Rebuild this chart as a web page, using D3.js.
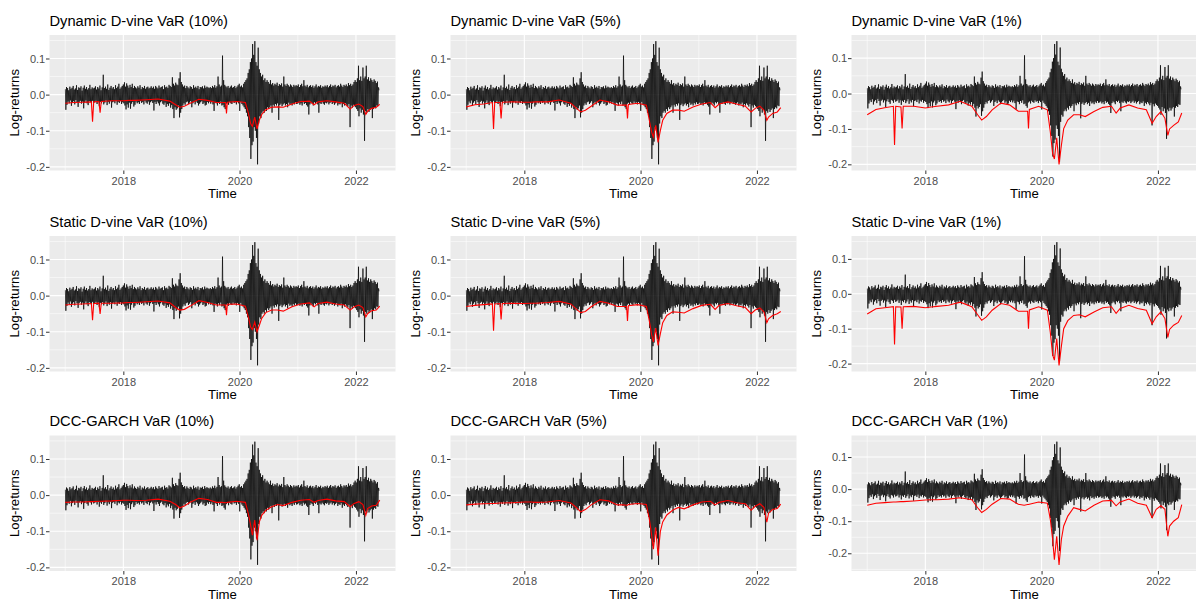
<!doctype html>
<html>
<head>
<meta charset="UTF-8">
<title>VaR backtests</title>
<script src="https://cdn.jsdelivr.net/npm/d3@7"></script>
<style>
  body { margin: 0; background: #fff; }
  text { font-family: "Liberation Sans", Arial, sans-serif; }
</style>
</head>
<body>
<svg id="chart" width="1196" height="602"></svg>
<script>
// panel titles, row by row
var titles = [
  "Dynamic D-vine VaR (10%)", "Dynamic D-vine VaR (5%)", "Dynamic D-vine VaR (1%)",
  "Static D-vine VaR (10%)", "Static D-vine VaR (5%)", "Static D-vine VaR (1%)",
  "DCC-GARCH VaR (10%)", "DCC-GARCH VaR (5%)", "DCC-GARCH VaR (1%)"
];

// portfolio log-returns, weekly high and low (weeks from 2017-01-02)
var retHi = [
  .015,.021,.018,.012,.022,.016,.019,.024,.014,.017,.026,.013,.02,.018,.023,.011,.019,.025,.016,.021,.014,.018,.027,.015,.02,.017,
  .019,.023,.014,.021,.017,.025,.012,.02,.055,.018,.022,.016,.028,.013,.019,.024,.017,.021,.015,.026,.018,.022,.03,.016,.02,.024,
  .028,.034,.022,.031,.025,.019,.027,.021,.03,.018,.024,.02,.017,.023,.019,.026,.015,.021,.018,.024,.016,.02,.022,.017,.019,.023,
  .018,.022,.016,.024,.02,.017,.025,.019,.021,.023,.015,.026,.02,.022,.018,.027,.024,.021,.048,.03,.025,.033,.028,.026,.045,.062,
  .035,.028,.022,.025,.018,.024,.02,.017,.023,.021,.016,.026,.019,.022,.018,.024,.015,.021,.02,.023,.017,.025,.019,.022,.02,.018,
  .021,.018,.024,.02,.026,.019,.023,.05,.028,.022,.025,.108,.04,.027,.023,.02,.024,.018,.022,.025,.019,.021,.024,.018,.022,.026,
  .03,.022,.025,.02,.03,.035,.04,.045,.06,.07,.09,.10,.14,.11,.148,.09,.08,.13,.07,.06,.05,.055,.04,.045,.035,.04,
  .035,.03,.04,.028,.032,.025,.03,.027,.033,.024,.029,.026,.031,.022,.05,.028,.024,.03,.026,.022,.028,.025,.021,.027,.023,.026,
  .024,.028,.021,.026,.03,.023,.04,.025,.022,.027,.02,.024,.026,.021,.025,.019,.023,.028,.02,.024,.022,.026,.019,.023,.021,.025,
  .022,.026,.02,.024,.028,.021,.025,.023,.027,.02,.024,.026,.022,.03,.025,.021,.027,.024,.028,.023,.032,.026,.03,.024,.028,.035,
  .04,.035,.045,.08,.04,.05,.038,.075,.045,.05,.08,.042,.048,.038,.045,.04,.035,.042,.038,.032,.036,.02
];
var retLo = [
  -.042,-.028,-.019,-.024,-.016,-.031,-.022,-.018,-.027,-.015,-.021,-.034,-.02,-.017,-.025,-.019,-.038,-.022,-.016,-.024,-.029,-.018,-.02,-.026,-.017,-.023,
  -.021,-.017,-.026,-.019,-.032,-.02,-.024,-.018,-.027,-.022,-.016,-.029,-.02,-.025,-.018,-.036,-.021,-.019,-.024,-.017,-.028,-.02,-.023,-.018,-.026,-.021,
  -.024,-.03,-.041,-.027,-.036,-.022,-.039,-.025,-.02,-.033,-.028,-.019,-.024,-.021,-.026,-.018,-.023,-.02,-.027,-.017,-.022,-.025,-.019,-.028,-.021,-.018,
  -.023,-.044,-.02,-.026,-.019,-.024,-.03,-.021,-.018,-.025,-.028,-.022,-.034,-.026,-.031,-.024,-.036,-.029,-.04,-.065,-.035,-.042,-.038,-.03,-.063,-.05,
  -.04,-.03,-.024,-.028,-.021,-.019,-.026,-.022,-.018,-.035,-.024,-.02,-.027,-.019,-.023,-.03,-.025,-.021,-.018,-.026,-.022,-.03,-.028,-.02,-.024,-.019,
  -.025,-.02,-.027,-.045,-.022,-.024,-.03,-.021,-.026,-.019,-.03,-.028,-.035,-.04,-.025,-.022,-.028,-.02,-.024,-.026,-.019,-.023,-.021,-.027,-.02,-.024,
  -.045,-.02,-.026,-.03,-.035,-.04,-.05,-.06,-.09,-.12,-.178,-.14,-.13,-.09,-.10,-.12,-.193,-.08,-.06,-.065,-.05,-.045,-.05,-.04,-.045,-.035,
  -.04,-.035,-.03,-.05,-.028,-.033,-.026,-.03,-.024,-.07,-.029,-.025,-.032,-.027,-.024,-.03,-.026,-.035,-.022,-.028,-.025,-.03,-.023,-.027,-.021,-.026,
  -.025,-.022,-.028,-.024,-.03,-.021,-.026,-.023,-.029,-.033,-.055,-.027,-.022,-.025,-.03,-.021,-.024,-.02,-.027,-.05,-.023,-.026,-.021,-.025,-.028,-.022,
  -.024,-.021,-.027,-.023,-.02,-.026,-.022,-.028,-.024,-.021,-.03,-.025,-.027,-.022,-.035,-.026,-.03,-.024,-.028,-.033,-.026,-.09,-.03,-.036,-.028,-.032,
  -.035,-.04,-.045,-.06,-.038,-.05,-.042,-.055,-.128,-.045,-.05,-.04,-.048,-.042,-.038,-.065,-.04,-.035,-.038,-.03,-.032,.012
];

// dates (decimal years) at which the VaR curves were read
var varTimes = [
  2017.00,2017.15,2017.30,2017.45,2017.47,2017.49,2017.58,2017.60,2017.62,2017.80,
  2018.00,2018.10,2018.20,2018.40,2018.60,2018.80,2018.90,2018.97,
  2019.05,2019.15,2019.30,2019.45,2019.60,2019.70,2019.76,2019.775,2019.79,2019.95,
  2020.10,2020.15,2020.19,2020.22,2020.26,2020.30,2020.34,2020.38,2020.45,2020.55,2020.65,2020.75,2020.90,
  2021.05,2021.20,2021.28,2021.35,2021.50,2021.65,2021.80,2021.90,2021.97,
  2022.05,2022.12,2022.17,2022.20,2022.27,2022.35,2022.41
];

var varDyn10 = [-.024,-.022,-.021,-.02,-.075,-.02,-.019,-.05,-.019,-.017,
  -.017,-.016,-.016,-.014,-.012,-.018,-.028,-.035,
  -.032,-.024,-.013,-.016,-.022,-.022,-.022,-.052,-.021,-.019,
  -.022,-.05,-.08,-.088,-.062,-.095,-.07,-.055,-.042,-.035,-.034,-.035,-.026,
  -.019,-.018,-.028,-.02,-.017,-.02,-.024,-.04,-.03,
  -.026,-.033,-.055,-.046,-.038,-.035,-.027];
var varDyn5 = [-.034,-.028,-.026,-.022,-.095,-.022,-.022,-.066,-.021,-.02,
  -.021,-.021,-.02,-.02,-.015,-.024,-.038,-.048,
  -.043,-.032,-.015,-.02,-.029,-.029,-.029,-.066,-.027,-.024,
  -.029,-.071,-.104,-.118,-.085,-.132,-.099,-.071,-.052,-.043,-.043,-.046,-.034,
  -.026,-.022,-.036,-.026,-.02,-.026,-.032,-.048,-.038,
  -.032,-.043,-.071,-.062,-.052,-.048,-.036];
var varDyn1 = [-.06,-.045,-.04,-.036,-.145,-.036,-.038,-.099,-.036,-.036,
  -.041,-.038,-.036,-.032,-.022,-.036,-.06,-.075,
  -.065,-.046,-.027,-.032,-.05,-.05,-.05,-.099,-.045,-.036,
  -.046,-.108,-.17,-.185,-.125,-.2,-.146,-.099,-.075,-.06,-.06,-.065,-.051,
  -.039,-.036,-.055,-.041,-.032,-.041,-.046,-.084,-.065,
  -.051,-.07,-.118,-.1,-.09,-.08,-.055];
var varSta10 = [-.026,-.024,-.023,-.022,-.068,-.022,-.021,-.051,-.021,-.021,
  -.02,-.019,-.019,-.017,-.015,-.02,-.033,-.04,
  -.038,-.029,-.014,-.019,-.026,-.026,-.026,-.054,-.024,-.023,
  -.029,-.059,-.087,-.094,-.073,-.1,-.082,-.063,-.047,-.04,-.04,-.043,-.031,
  -.023,-.02,-.031,-.022,-.018,-.023,-.026,-.04,-.031,
  -.026,-.033,-.059,-.05,-.042,-.04,-.029];
var varSta5 = [-.03,-.027,-.025,-.023,-.097,-.023,-.022,-.066,-.022,-.021,
  -.022,-.021,-.021,-.019,-.016,-.023,-.038,-.047,
  -.044,-.031,-.016,-.021,-.03,-.03,-.03,-.07,-.028,-.025,
  -.03,-.07,-.108,-.128,-.09,-.138,-.105,-.075,-.055,-.045,-.046,-.048,-.036,
  -.027,-.024,-.038,-.027,-.022,-.028,-.033,-.05,-.04,
  -.034,-.045,-.075,-.064,-.055,-.05,-.044];
var varSta1 = [-.058,-.043,-.04,-.037,-.145,-.037,-.038,-.1,-.037,-.036,
  -.04,-.038,-.036,-.033,-.024,-.037,-.06,-.076,
  -.066,-.047,-.028,-.033,-.05,-.05,-.05,-.1,-.046,-.037,
  -.047,-.11,-.175,-.19,-.128,-.205,-.15,-.1,-.077,-.062,-.06,-.066,-.052,
  -.04,-.037,-.056,-.042,-.033,-.042,-.047,-.086,-.066,
  -.052,-.071,-.125,-.102,-.09,-.082,-.062];
var varDcc10 = [-.02,-.019,-.019,-.018,-.018,-.018,-.017,-.017,-.017,-.016,
  -.014,-.014,-.015,-.014,-.011,-.017,-.026,-.035,
  -.03,-.02,-.009,-.012,-.02,-.02,-.021,-.021,-.02,-.017,
  -.02,-.051,-.083,-.111,-.069,-.125,-.074,-.056,-.042,-.032,-.026,-.029,-.02,
  -.014,-.012,-.02,-.015,-.011,-.016,-.018,-.032,-.023,
  -.018,-.026,-.056,-.037,-.03,-.028,-.014];
var varDcc5 = [-.027,-.025,-.024,-.023,-.023,-.023,-.022,-.022,-.022,-.021,
  -.019,-.019,-.02,-.019,-.015,-.022,-.035,-.046,
  -.04,-.027,-.013,-.016,-.027,-.027,-.028,-.028,-.026,-.023,
  -.026,-.066,-.11,-.15,-.09,-.168,-.1,-.074,-.055,-.042,-.034,-.038,-.027,
  -.019,-.017,-.027,-.02,-.015,-.021,-.024,-.042,-.031,
  -.024,-.034,-.075,-.05,-.04,-.037,-.025];
var varDcc1 = [-.05,-.044,-.042,-.04,-.04,-.04,-.039,-.039,-.039,-.037,
  -.034,-.033,-.033,-.031,-.027,-.033,-.058,-.073,
  -.063,-.047,-.029,-.031,-.047,-.05,-.048,-.048,-.047,-.04,
  -.044,-.094,-.157,-.22,-.147,-.236,-.157,-.115,-.084,-.058,-.063,-.068,-.05,
  -.037,-.035,-.052,-.04,-.031,-.044,-.05,-.089,-.063,
  -.052,-.063,-.147,-.115,-.1,-.089,-.048];

var varSeries = [varDyn10, varDyn5, varDyn1, varSta10, varSta5, varSta1, varDcc10, varDcc5, varDcc1];

var yBreaks = [-0.2, -0.1, 0, 0.1];
var yMinor = [-0.25, -0.15, -0.05, 0.05, 0.15];
var xBreakYears = [2018, 2020, 2022];
var xMinorYears = [2017, 2019, 2021];

// layout
var colX = [49.5, 450.5, 851.5];
var rowY = [35, 236, 435.5];
var pw = 346, ph = 135.5;

var DAY = 864e5;
var start = Date.UTC(2017, 0, 2);
function yearToDate(y) {
  var yr = Math.floor(y), a = Date.UTC(yr, 0, 1), b = Date.UTC(yr + 1, 0, 1);
  return new Date(a + (y - yr) * (b - a));
}

// returns as a zig-zag of weekly highs and lows
var returns = [];
var n = Math.min(retHi.length, retLo.length);
for (var i = 0; i < n; i++) {
  returns.push({ t: new Date(start + i * 7 * DAY), v: retHi[i] });
  returns.push({ t: new Date(start + (i * 7 + 3) * DAY), v: retLo[i] });
}

var svg = d3.select("#chart");

titles.forEach(function(title, k) {
  var r = Math.floor(k / 3), c = k % 3;
  var vals = varSeries[k];
  var varData = varTimes.map(function(t, j) { return { t: yearToDate(t), v: vals[j] }; });

  var all = returns.concat(varData);
  var tx = d3.extent(all, function(d) { return +d.t; });
  var ty = d3.extent(all, function(d) { return d.v; });
  var ex = (tx[1] - tx[0]) * 0.05, ey = (ty[1] - ty[0]) * 0.05;

  var x = d3.scaleUtc().domain([new Date(tx[0] - ex), new Date(tx[1] + ex)]).range([0, pw]);
  var y = d3.scaleLinear().domain([ty[0] - ey, ty[1] + ey]).range([ph, 0]);

  var g = svg.append("g").attr("transform", "translate(" + colX[c] + "," + rowY[r] + ")");

  g.append("rect").attr("width", pw).attr("height", ph).attr("fill", "#EBEBEB");

  var yd = y.domain();
  var inY = function(v) { return v >= yd[0] && v <= yd[1]; };

  // minor grid
  g.selectAll(".ymin").data(yMinor.filter(inY)).enter().append("line")
    .attr("x1", 0).attr("x2", pw).attr("y1", y).attr("y2", y)
    .attr("stroke", "#fff").attr("stroke-width", 0.55);
  g.selectAll(".xmin").data(xMinorYears).enter().append("line")
    .attr("x1", function(d) { return x(yearToDate(d)); }).attr("x2", function(d) { return x(yearToDate(d)); })
    .attr("y1", 0).attr("y2", ph)
    .attr("stroke", "#fff").attr("stroke-width", 0.55);

  // major grid
  g.selectAll(".ymaj").data(yBreaks.filter(inY)).enter().append("line")
    .attr("x1", 0).attr("x2", pw).attr("y1", y).attr("y2", y)
    .attr("stroke", "#fff").attr("stroke-width", 1.1);
  g.selectAll(".xmaj").data(xBreakYears).enter().append("line")
    .attr("x1", function(d) { return x(yearToDate(d)); }).attr("x2", function(d) { return x(yearToDate(d)); })
    .attr("y1", 0).attr("y2", ph)
    .attr("stroke", "#fff").attr("stroke-width", 1.1);

  var line = d3.line().x(function(d) { return x(d.t); }).y(function(d) { return y(d.v); });

  g.append("path").datum(returns).attr("d", line)
    .attr("fill", "none").attr("stroke", "#000").attr("stroke-width", 0.7);
  g.append("path").datum(varData).attr("d", line)
    .attr("fill", "none").attr("stroke", "#FF0000").attr("stroke-width", 1.1);

  // axes
  var ya = g.append("g").call(d3.axisLeft(y).tickValues(yBreaks.filter(inY))
    .tickFormat(function(d) { return d.toFixed(1); }).tickSize(3.5).tickPadding(0.8));
  var xa = g.append("g").attr("transform", "translate(0," + ph + ")")
    .call(d3.axisBottom(x).tickValues(xBreakYears.map(yearToDate))
      .tickFormat(d3.utcFormat("%Y")).tickSize(3.5).tickPadding(3));
  [ya, xa].forEach(function(a) {
    a.select(".domain").remove();
    a.selectAll("line").attr("stroke", "#333");
    a.selectAll("text").attr("fill", "#4D4D4D").attr("font-size", "11px")
      .style("font-family", "'Liberation Sans', Arial, sans-serif");
  });

  g.append("text").attr("x", 0).attr("y", -9.5).attr("font-size", "14.7px").attr("fill", "#000")
    .text(title);
  g.append("text").attr("x", pw / 2).attr("y", ph + 27.5).attr("text-anchor", "middle")
    .attr("font-size", "13.2px").attr("fill", "#000").text("Time");
  g.append("text").attr("transform", "translate(" + (19 - colX[0]) + "," + (ph / 2) + ") rotate(-90)")
    .attr("text-anchor", "middle").attr("font-size", "13.2px").attr("fill", "#000").text("Log-returns");
});
</script>
</body>
</html>
